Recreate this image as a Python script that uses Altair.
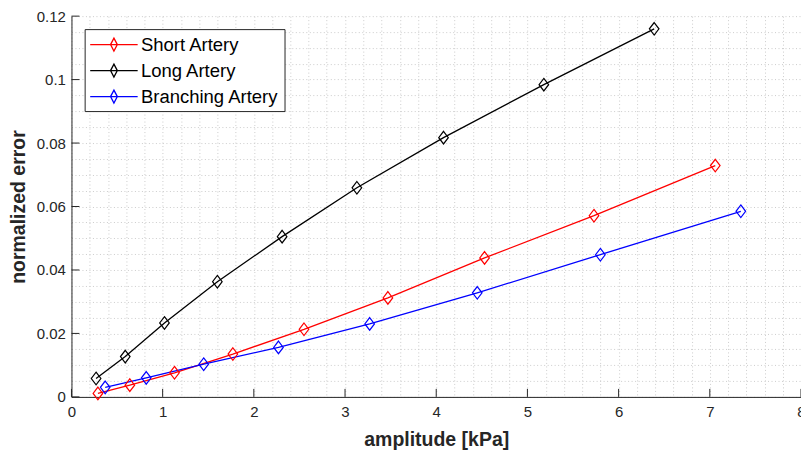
import altair as alt
import pandas as pd

# ---- data ----
series_names = ["Short Artery", "Long Artery", "Branching Artery"]
series_colors = ["#ff0000", "#000000", "#0000ff"]

short_amp = [0.29, 0.64, 1.13, 1.77, 2.55, 3.47, 4.53, 5.73, 7.06]
short_err = [0.0011, 0.0037, 0.0076, 0.0135, 0.0213, 0.0312, 0.0438, 0.0571, 0.0729]

long_amp = [0.27, 0.59, 1.02, 1.60, 2.31, 3.13, 4.08, 5.18, 6.39]
long_err = [0.0058, 0.0127, 0.0233, 0.0363, 0.0505, 0.0659, 0.0817, 0.0984, 0.1160]

branch_amp = [0.37, 0.82, 1.45, 2.27, 3.27, 4.45, 5.80, 7.34]
branch_err = [0.0030, 0.0060, 0.0103, 0.0156, 0.0230, 0.0328, 0.0448, 0.0585]

x_major = [0, 1, 2, 3, 4, 5, 6, 7, 8]
y_major = [0, 0.02, 0.04, 0.06, 0.08, 0.10, 0.12]
x_grid = [round(i * 0.2, 1) for i in range(41)]
y_grid = [round(i * 0.005, 3) for i in range(25)]

rows = []
for name, xs, ys in [(series_names[0], short_amp, short_err),
                     (series_names[1], long_amp, long_err),
                     (series_names[2], branch_amp, branch_err)]:
    for a, e in zip(xs, ys):
        rows.append({"series": name, "amplitude": a, "error": e})
df = pd.DataFrame(rows)

W, H = 730, 381
FONT = "Liberation Sans"
AX = "#262626"

x_enc = alt.X(
    "amplitude:Q",
    scale=alt.Scale(domain=[0, 8], nice=False, zero=False),
    axis=alt.Axis(
        values=x_grid, grid=True, gridDash=[1, 2.5], gridColor="#cccccc",
        ticks=False, tickSize=0, labelFlush=False, labelOverlap=False,
        labelExpr="abs(datum.value - round(datum.value)) < 1e-6 ? format(datum.value, 'd') : ''",
        labelFont=FONT, labelFontSize=15, labelColor=AX, labelPadding=8,
        domainColor=AX, domainWidth=1,
        title="amplitude [kPa]", titleFont=FONT, titleFontSize=19.5,
        titleFontWeight="bold", titleColor=AX, titleY=48.7,
        titleBaseline="alphabetic",
    ),
)
y_enc = alt.Y(
    "error:Q",
    scale=alt.Scale(domain=[0, 0.12], nice=False, zero=False),
    axis=alt.Axis(
        values=y_grid, grid=True, gridDash=[1, 2.5], gridColor="#cccccc",
        ticks=False, tickSize=0, labelFlush=False, labelOverlap=False,
        labelExpr="abs(datum.value*50 - round(datum.value*50)) < 1e-6 ? format(datum.value, '~g') : ''",
        labelFont=FONT, labelFontSize=15, labelColor=AX, labelPadding=6,
        domainColor=AX, domainWidth=1,
        title="normalized error", titleFont=FONT, titleFontSize=19.5,
        titleFontWeight="bold", titleColor=AX, titleX=-46.5, titleY=H / 2,
        titleBaseline="alphabetic", titleAngle=-90,
    ),
)

legend_path = "M-2.5,0L2.5,0M0,-0.684L0.358,0L0,0.684L-0.358,0Z"
color_enc = alt.Color(
    "series:N",
    scale=alt.Scale(domain=series_names, range=series_colors),
    legend=alt.Legend(
        title=None, orient="none", legendX=13.2, legendY=13,
        symbolType=legend_path, symbolSize=361, symbolStrokeWidth=1.3,
        symbolOffset=13.8, labelOffset=16.5, padding=5, rowPadding=6,
        symbolFillColor="transparent",
        labelFont=FONT, labelFontSize=18.5, labelColor="#000000", labelLimit=300,
        strokeColor=AX, fillColor="#ffffff",
    ),
    sort=series_names,
)

lines = alt.Chart(df).mark_line(strokeWidth=1.3).encode(
    x=x_enc, y=y_enc, color=color_enc, detail="series:N"
)
points = alt.Chart(df).mark_point(
    shape="M0,-1L0.76,0L0,1L-0.76,0Z", size=159, filled=False, strokeWidth=1.2, opacity=1
).encode(x=x_enc, y=y_enc, color=color_enc)

xt = pd.DataFrame({"amplitude": x_major})
yt = pd.DataFrame({"error": y_major})
x_ticks = alt.Chart(xt).mark_rule(color=AX, strokeWidth=1).encode(
    x=x_enc, y=alt.value(H), y2=alt.value(H - 8)
)
y_ticks = alt.Chart(yt).mark_rule(color=AX, strokeWidth=1).encode(
    y=y_enc, x=alt.value(0), x2=alt.value(8)
)

chart = alt.layer(x_ticks, y_ticks, lines, points).properties(
    width=W, height=H,
    autosize=alt.AutoSizeParams(type="none"),
    padding={"left": 71.5, "top": 16, "right": 0, "bottom": 54},
    background="#ffffff",
).configure_view(stroke=None)

chart.save("out.html", embed_options={"renderer": "svg", "actions": False})
